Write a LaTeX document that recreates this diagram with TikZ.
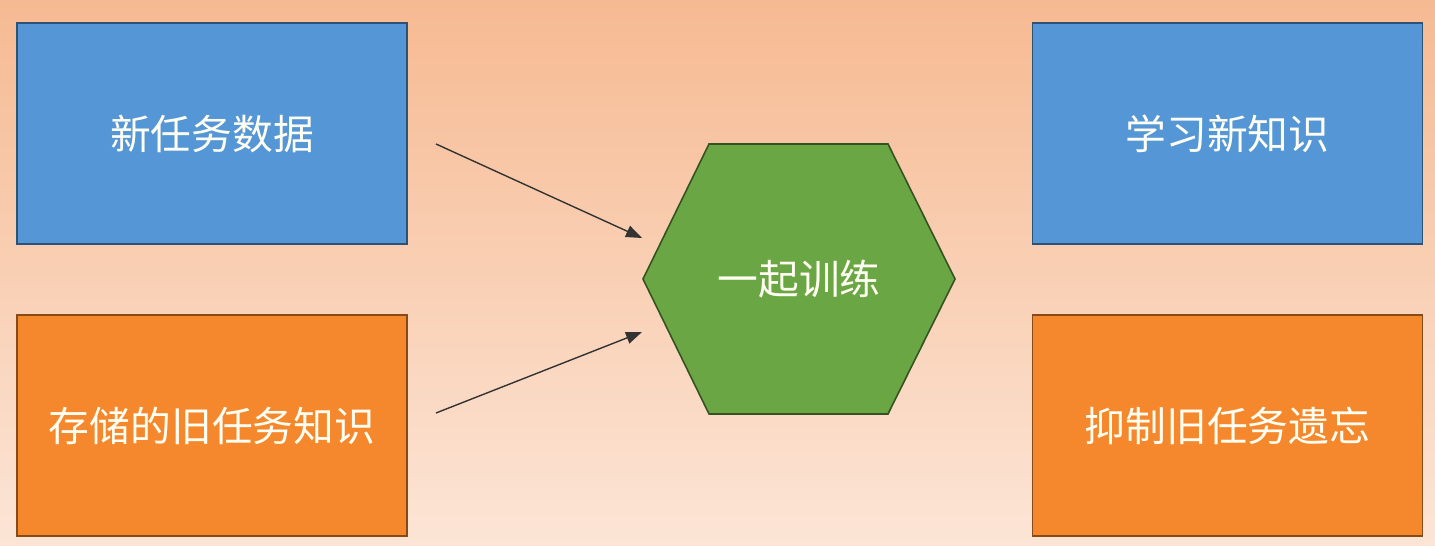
\documentclass[tikz,border=0pt]{standalone}
\usepackage{fontspec}
\setmainfont{Noto Sans CJK SC}
\usetikzlibrary{arrows.meta}
\definecolor{bgtop}{RGB}{246,186,146}
\definecolor{bgbot}{RGB}{252,229,214}
\definecolor{taskblue}{RGB}{84,150,214}
\definecolor{taskorange}{RGB}{245,136,44}
\definecolor{traingreen}{RGB}{106,166,67}
\tikzset{
  box/.style={draw=#1!55!black, fill=#1, line width=0.45pt, minimum width=3.9cm, minimum height=2.21cm,
    text=white!95!yellow, font=\fontsize{11.6pt}{14pt}\selectfont},
  feed/.style={-{Triangle[length=0.16cm,width=0.12cm]}, line width=0.4pt, black!80}
}
\begin{document}
\begin{tikzpicture}
\shade[top color=bgtop,bottom color=bgbot] (0,0) rectangle (14.35,5.46);
\node[box=taskblue] (newdata) at (2.12,4.125) {新任务数据};
\node[box=taskorange] (olddata) at (2.12,1.205) {存储的旧任务知识};
\node[box=taskblue] (learn) at (12.275,4.125) {学习新知识};
\node[box=taskorange] (keep) at (12.275,1.205) {抑制旧任务遗忘};
% hexagon
\draw[draw=traingreen!50!black, fill=traingreen, line width=0.45pt]
  (6.43,2.67) -- (7.09,4.02) -- (8.88,4.02) -- (9.55,2.67) -- (8.88,1.32) -- (7.09,1.32) -- cycle;
\node[text=white!95!yellow, font=\fontsize{11.6pt}{14pt}\selectfont] (train) at (7.99,2.67) {一起训练};
\coordinate (s1) at (4.36,4.02);
\coordinate (t1) at (6.42,3.08);
\coordinate (s2) at (4.36,1.33);
\coordinate (t2) at (6.42,2.14);
\draw[feed] (s1) -- (t1);
\draw[feed] (s2) -- (t2);
\end{tikzpicture}
\end{document}
